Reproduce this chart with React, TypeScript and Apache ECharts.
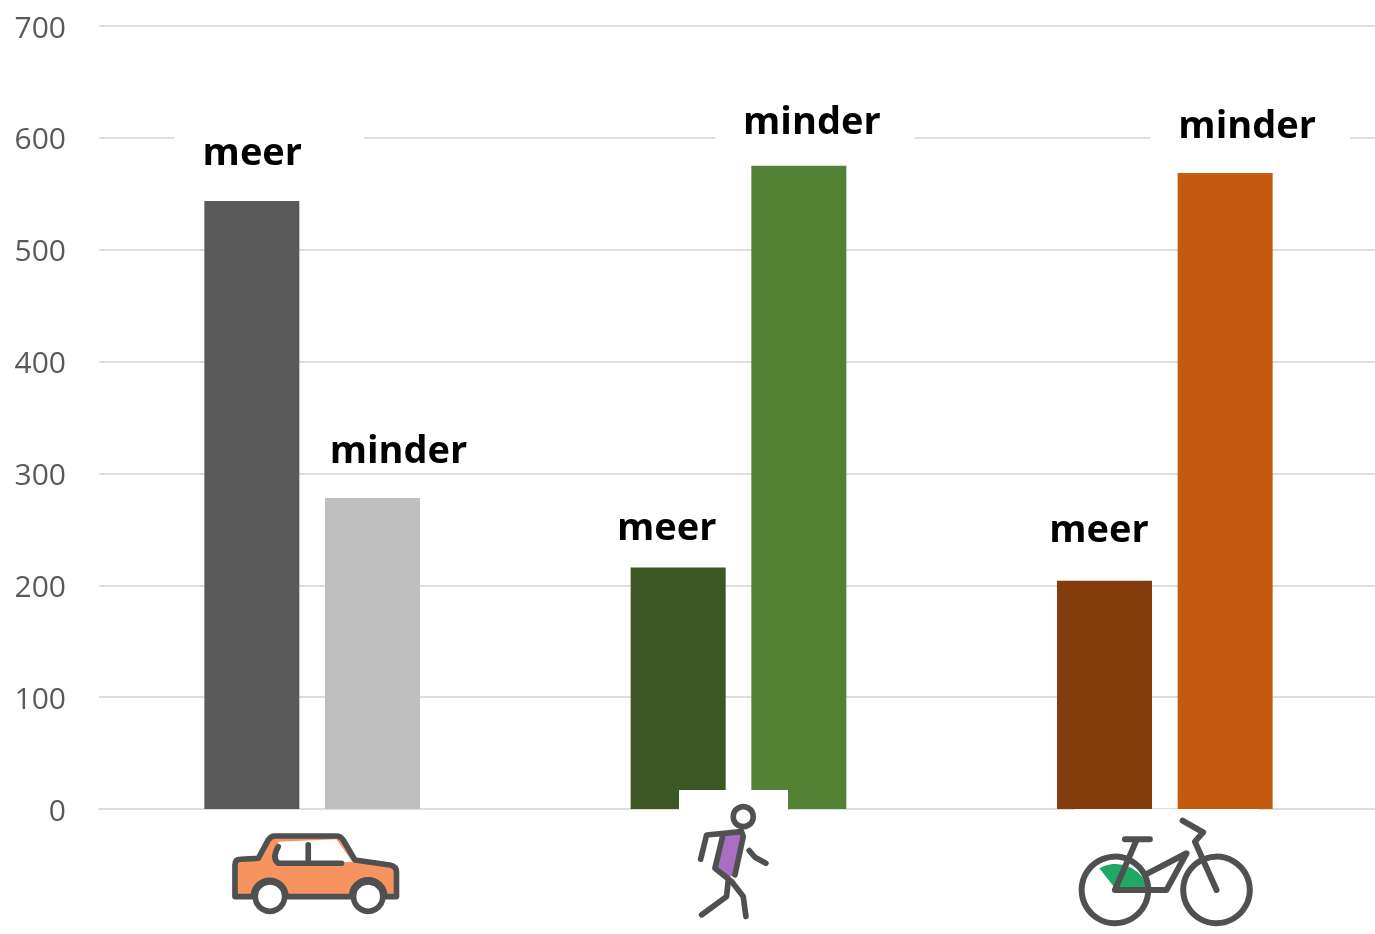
import React, { useEffect, useRef } from "react";
import * as echarts from "echarts";

const categories = ["auto", "lopen", "fiets"];
const meerValues = [543.5, 216, 204];
const minderValues = [278, 575, 568.5];
const meerColors = ["#595959", "#3B5723", "#843C0C"];
const minderColors = ["#BFBFBF", "#548235", "#C55A11"];
const meerOffsets = [[17.5, -23], [5.5, -14], [11.5, -26]];
const minderOffsets = [[29, -22], [16, -19], [25, -22]];
const meerMasks = ["#ffffff", "transparent", "transparent"];
const minderMasks = ["#ffffff", "#ffffff", "#ffffff"];

const STROKE = "#505050";
const shape = (name: string, d: string) =>
  echarts.graphic.registerShape(name, echarts.graphic.extendPath(d as any, {}) as any);

shape("carBody", "M75 290 L75 195 Q75 178 92 178 L145 175 L175 120 Q182 108 195 108 L380 108 Q392 108 400 120 L435 180 L540 195 Q560 198 560 218 L560 290 L525 290 A48 48 0 0 0 425 290 L228 290 A48 48 0 0 0 130 290 Z");
shape("carWindowFill", "M205 125 L380 118 L428 186 L200 190 Z");
shape("carWindowLine", "M205 140 Q185 175 205 190 L395 190 M295 135 L295 185");
shape("walkerPack", "M190 165 L248 160 L225 285 L205 292 L165 265 Z");
shape("walkerLine", "M122 238 L140 165 L245 155 L250 170 L225 285 M188 170 L165 265 L215 305 L250 350 L258 410 M205 300 L200 350 L125 405 M268 212 L285 232 L318 250");
shape("bikeGreen", "M163 262 L118 205 A100 100 0 0 1 258 250 L258 262 Z");
shape("bikeLine", "M165 270 L320 270 L380 160 L255 225 M165 270 L230 120 M195 118 L270 118 M368 62 L430 97 L405 125 L470 270");

const labelFor = (name: string, offset: number[], mask: string, pad: number[]) => ({
  show: true,
  position: "top",
  formatter: name,
  offset,
  color: "#000000",
  fontFamily: "Open Sans",
  fontWeight: 700,
  fontSize: 38,
  lineHeight: 38,
  backgroundColor: mask,
  padding: pad,
});

export default function App() {
  const ref = useRef<HTMLDivElement>(null);
  useEffect(() => {
    document.body.style.margin = "0";
    const chart = echarts.init(ref.current!, null, { renderer: "svg" });
    const icon = (x: number, y: number, children: any[]) => ({
      type: "group", x, y, scaleX: 1 / 3, scaleY: 1 / 3, children: children.map((c) => ({ ...c, z: 100 })),
    });
    const line = { fill: "none", stroke: STROKE, lineWidth: 17, lineCap: "round", lineJoin: "round" };
    chart.setOption({
      animation: false,
      backgroundColor: "#ffffff",
      grid: { left: 99, right: 0, top: 26, bottom: 125 },
      xAxis: {
        type: "category",
        data: categories,
        axisLine: { show: true, lineStyle: { color: "#DEDEDE", width: 2 } },
        axisTick: { show: false },
        axisLabel: { show: false },
      },
      yAxis: {
        type: "value",
        min: 0,
        max: 700,
        interval: 100,
        axisLine: { show: false },
        axisTick: { show: false },
        axisLabel: { color: "#595959", fontFamily: "Open Sans", fontSize: 30, margin: 33, padding: [0, 0, 6, 0] },
        splitLine: { lineStyle: { color: "#DEDEDE", width: 2 } },
      },
      series: [
        {
          name: "meer",
          type: "bar",
          barWidth: 95,
          barGap: "27%",
          data: meerValues.map((value, i) => ({
            value,
            itemStyle: { color: meerColors[i] },
            label: labelFor("meer", meerOffsets[i], meerMasks[i], [4, 62, 4, 28]),
          })),
        },
        {
          name: "minder",
          type: "bar",
          barWidth: 95,
          data: minderValues.map((value, i) => ({
            value,
            itemStyle: { color: minderColors[i] },
            label: labelFor("minder", minderOffsets[i], minderMasks[i], [4, 34, 4, 28]),
          })),
        },
      ],
      graphic: [
        { type: "rect", z: 90, shape: { x: 679, y: 790, width: 109, height: 20 }, style: { fill: "#fff" } },
        { type: "rect", z: 90, shape: { x: 1075, y: 809, width: 183, height: 3 }, style: { fill: "#fff" } },
        icon(210, 800, [
          { type: "carBody", style: { fill: "#F6935E", stroke: STROKE, lineWidth: 17, lineJoin: "round" } },
          { type: "carWindowFill", style: { fill: "#ffffff" } },
          { type: "carWindowLine", style: line },
          { type: "circle", shape: { cx: 180, cy: 290, r: 44 }, style: { fill: "#fff", stroke: STROKE, lineWidth: 17 } },
          { type: "circle", shape: { cx: 475, cy: 290, r: 44 }, style: { fill: "#fff", stroke: STROKE, lineWidth: 17 } },
        ]),
        icon(660, 780, [
          { type: "walkerPack", style: { fill: "#A96FBF" } },
          { type: "walkerLine", style: line },
          { type: "circle", shape: { cx: 250, cy: 110, r: 30 }, style: { fill: "#fff", stroke: STROKE, lineWidth: 17 } },
        ]),
        icon(1060, 800, [
          { type: "bikeGreen", style: { fill: "#22A865" } },
          { type: "circle", shape: { cx: 165, cy: 270, r: 100 }, style: { fill: "none", stroke: STROKE, lineWidth: 18 } },
          { type: "circle", shape: { cx: 470, cy: 270, r: 100 }, style: { fill: "none", stroke: STROKE, lineWidth: 18 } },
          { type: "bikeLine", style: { ...line, lineWidth: 18 } },
        ]),
      ],
    });
    return () => chart.dispose();
  }, []);
  return (
    <div style={{ position: "absolute", left: 0, top: 0, width: 1375, height: 934, overflow: "hidden", filter: "blur(0.5px)" }}>
      <div ref={ref} style={{ width: 1378, height: 934 }} />
    </div>
  );
}
